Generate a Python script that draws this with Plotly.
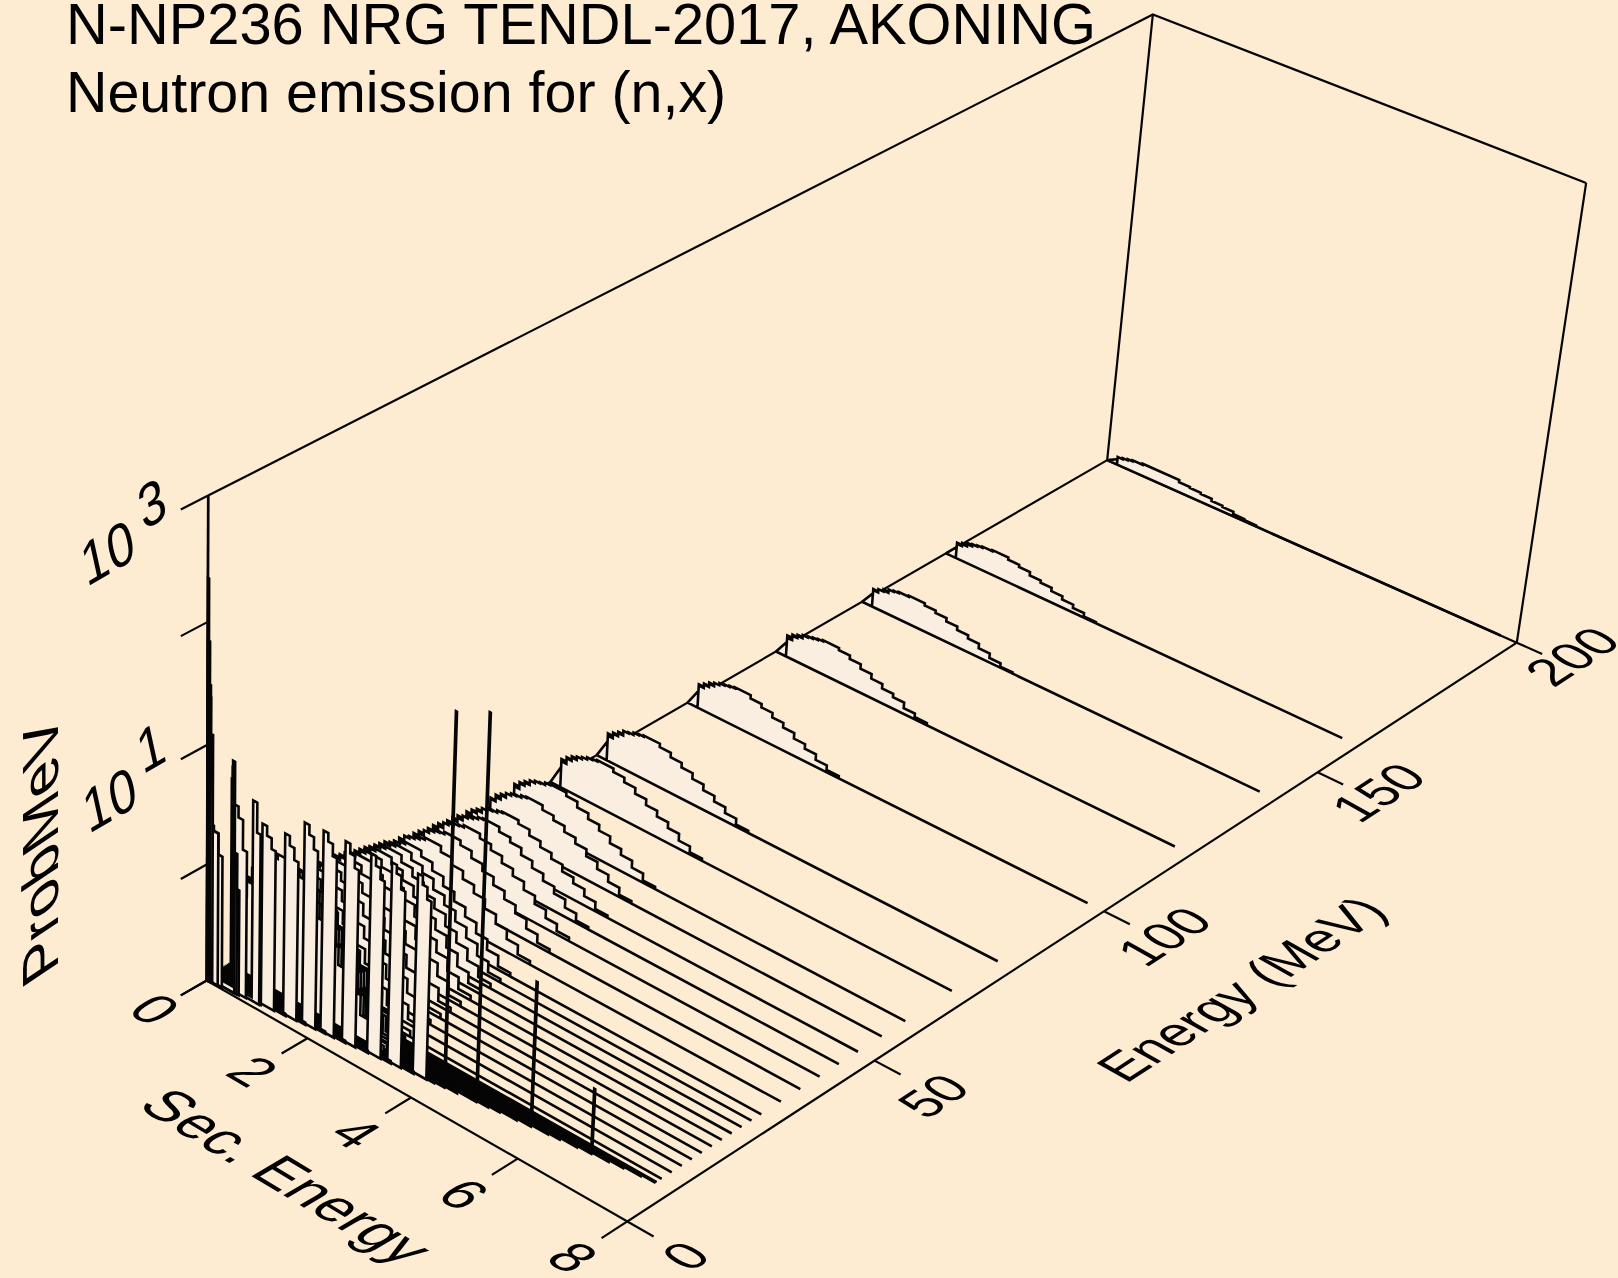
import json
import numpy as np
import plotly.graph_objects as go

BG = "#FEECD2"
FILL = "#F9EEDF"
INK = "#050505"

# Secondary-energy bin edges (MeV) shared by the spectra
SEC_BINS = [0, .2, .25, .3, .35, .4, .45, .5, .6, .7, .8, .9, 1.0, 1.22, 1.44, 1.66, 1.88, 2.1, 2.32, 2.54, 2.76, 3.0]
SEC_END = 7.7
END_RATIO = 0.877   # below 8.8 MeV a spectrum stops at this fraction of the incident energy
LOG_FLOOR = -1.0

# log10(prob/MeV) in each bin, for each incident energy (MeV)
E_200 = [-.95,-.93,-.93,-.92,-.92,-.91,-.91,-.90,-.90,-.89,-.89,-.885,-.885,-.89,-.91,-.92,-.93,-.95,-.96,-.98,-.99]
E_160 = [-.90,-.86,-.87,-.84,-.85,-.82,-.83,-.81,-.80,-.79,-.79,-.78,-.78,-.80,-.82,-.85,-.87,-.90,-.93,-.96,-.99]
E_140 = [-.88,-.84,-.85,-.82,-.82,-.80,-.81,-.78,-.77,-.76,-.76,-.75,-.75,-.77,-.79,-.82,-.85,-.88,-.92,-.96,-.99]
E_120 = [-.87,-.81,-.83,-.78,-.79,-.76,-.77,-.74,-.73,-.72,-.71,-.70,-.70,-.72,-.75,-.79,-.83,-.87,-.90,-.95,-.98]
E_100 = [-.85,-.79,-.80,-.76,-.77,-.73,-.74,-.71,-.69,-.68,-.67,-.66,-.66,-.69,-.72,-.76,-.80,-.85,-.89,-.94,-.98]
E_80 = [-.83,-.76,-.78,-.73,-.74,-.70,-.71,-.67,-.66,-.64,-.63,-.62,-.62,-.65,-.69,-.73,-.78,-.83,-.88,-.93,-.98]
E_70 = [-.82,-.75,-.77,-.71,-.72,-.68,-.69,-.66,-.64,-.62,-.61,-.60,-.60,-.63,-.67,-.72,-.77,-.82,-.87,-.93,-.98]
E_60 = [-.81,-.73,-.75,-.69,-.70,-.66,-.67,-.63,-.61,-.60,-.58,-.57,-.57,-.60,-.65,-.70,-.75,-.81,-.86,-.92,-.98]
E_55 = [-.80,-.73,-.74,-.68,-.70,-.65,-.66,-.62,-.60,-.59,-.57,-.56,-.56,-.60,-.64,-.69,-.74,-.80,-.86,-.92,-.98]
E_50 = [-.81,-.73,-.75,-.69,-.70,-.66,-.67,-.63,-.61,-.60,-.58,-.57,-.57,-.60,-.65,-.70,-.75,-.81,-.86,-.92,-.98]
E_46 = [-.79,-.71,-.73,-.66,-.68,-.62,-.64,-.60,-.58,-.56,-.54,-.53,-.53,-.57,-.61,-.67,-.73,-.79,-.85,-.92,-.98]
E_42 = [-.77,-.68,-.70,-.63,-.65,-.59,-.61,-.56,-.54,-.52,-.51,-.49,-.49,-.53,-.58,-.64,-.70,-.77,-.84,-.91,-.97]
E_38 = [-.75,-.66,-.68,-.60,-.62,-.56,-.58,-.53,-.50,-.48,-.47,-.45,-.45,-.49,-.55,-.61,-.68,-.75,-.82,-.90,-.97]
E_34 = [-.73,-.63,-.65,-.57,-.59,-.52,-.54,-.48,-.46,-.44,-.42,-.40,-.40,-.45,-.51,-.58,-.65,-.73,-.81,-.89,-.97]
E_30 = [-.70,-.59,-.62,-.52,-.54,-.47,-.49,-.43,-.41,-.38,-.36,-.34,-.34,-.39,-.46,-.54,-.62,-.70,-.79,-.88,-.97]
E_28 = [-.69,-.57,-.60,-.50,-.52,-.45,-.47,-.41,-.38,-.35,-.33,-.31,-.31,-.37,-.43,-.52,-.60,-.69,-.78,-.88,-.97]
E_26 = [-.68,-.55,-.58,-.48,-.50,-.42,-.45,-.38,-.35,-.32,-.30,-.28,-.28,-.34,-.41,-.50,-.58,-.68,-.77,-.87,-.96]
E_24 = [-.66,-.54,-.57,-.46,-.48,-.40,-.42,-.36,-.33,-.30,-.27,-.25,-.25,-.31,-.39,-.48,-.57,-.66,-.76,-.87,-.96]
E_22 = [-.65,-.52,-.55,-.44,-.46,-.38,-.40,-.33,-.30,-.27,-.24,-.22,-.22,-.28,-.36,-.45,-.55,-.65,-.75,-.86,-.96]
E_20 = [-.64,-.50,-.53,-.42,-.44,-.35,-.38,-.30,-.27,-.24,-.21,-.19,-.19,-.25,-.34,-.43,-.53,-.64,-.74,-.85,-.96]
E_18 = [-.63,-.49,-.52,-.40,-.43,-.34,-.36,-.29,-.25,-.22,-.19,-.17,-.17,-.24,-.32,-.42,-.52,-.63,-.73,-.85,-.96]
E_16 = [-.62,-.47,-.51,-.39,-.41,-.32,-.35,-.27,-.24,-.20,-.18,-.15,-.15,-.22,-.30,-.41,-.51,-.62,-.73,-.85,-.96]
E_14 = [-.61,-.46,-.50,-.37,-.40,-.30,-.33,-.25,-.22,-.18,-.16,-.13,-.13,-.20,-.29,-.39,-.50,-.61,-.72,-.84,-.96]
E_12 = [-.60,-.45,-.48,-.36,-.39,-.29,-.31,-.23,-.20,-.16,-.14,-.11,-.11,-.18,-.27,-.38,-.48,-.60,-.72,-.84,-.96]
E_10 = [-.59,-.44,-.47,-.34,-.37,-.27,-.30,-.22,-.18,-.14,-.12,-.09,-.09,-.16,-.25,-.36,-.47,-.59,-.71,-.84,-.95]
E_9 = [-.58,-.42,-.46,-.33,-.36,-.26,-.28,-.20,-.16,-.13,-.10,-.07,-.07,-.14,-.24,-.35,-.46,-.58,-.70,-.83,-.95]
E_8_8 = [-.57,-.41,-.45,-.32,-.34,-.24,-.27,-.18,-.15,-.11,-.08,-.05,-.05,-.13,-.22,-.34,-.45,-.57,-.70,-.83,-.95]
E_8_2 = [-.56,-.39,-.43,-.29,-.32,-.22,-.25,-.16,-.12,-.08,-.05,-.02,-.02,-.10,-.20,-.31,-.43,-.56,-.69,-.82,-.95]
E_7_6 = [-.55,-.38,-.42,-.28,-.31,-.20,-.23,-.14,-.10,-.06,-.03,0,0,-.08,-.18,-.30,-.42,-.55,-.68,-.82,-.95]
E_7_0 = [-.54,-.36,-.40,-.26,-.29,-.18,-.21,-.11,-.07,-.03,0,.03,.03,-.05,-.16,-.28,-.40,-.54,-.67,-.81,-.95]
E_6_45 = [-.52,-.34,-.39,-.24,-.27,-.15,-.18,-.09,-.05,0,.03,.06,.06,-.02,-.13,-.26,-.39,-.52,-.66,-.81,-.95]
E_5_85 = [-.50,-.32,-.36,-.21,-.24,-.12,-.15,-.05,-.01,.03,.07,.10,.10,.01,-.10,-.23,-.36,-.50,-.65,-.80,-.95]
E_5_4 = [-.49,-.30,-.34,-.19,-.22,-.10,-.13,-.03,.02,.06,.10,.13,.13,.04,-.07,-.21,-.34,-.49,-.64,-.80,-.94]
E_4_78 = [-.47,-.27,-.32,-.15,-.19,-.06,-.09,.01,.06,.11,.14,.18,.18,.09,-.03,-.17,-.32,-.47,-.62,-.79,-.94]

HUMP_E = [200, 160, 140, 120, 100, 80, 70, 60, 55, 50, 46, 42, 38, 34, 30, 28, 26, 24, 22, 20, 18, 16, 14, 12, 10, 9,
          8.8, 8.2, 7.6, 7.0, 6.45, 5.85, 5.4, 4.78]
HUMP_LOGP = [E_200, E_160, E_140, E_120, E_100, E_80, E_70, E_60, E_55, E_50, E_46, E_42, E_38, E_34, E_30, E_28, E_26,
             E_24, E_22, E_20, E_18, E_16, E_14, E_12, E_10, E_9, E_8_8, E_8_2, E_7_6, E_7_0, E_6_45, E_5_85, E_5_4, E_4_78]

# Isolated narrow lines in the spectra: incident energy -> peak log10(prob/MeV)
LINE_E = [7.6, 6.45, 5.4, 4.78]
LINE_LOGP = [-.45, .22, 2.2, 2.1]

# Low-energy spectra that end in a narrow block at the top of their range
BLOCK_E = [4.40, 3.90, 3.50, 3.00, 2.57, 2.20, 1.82, 1.37, .80, .31]
BLOCK_TOP = [.67, .67, .67, .68, .69, .69, .53, .53, .59, .34]
BLOCK_MID = [.60, .60, .59, .60, .62, .61, .45, .45, .50, .30]
BLOCK_END = [.50, .49, .50, .50, .52, .51, .35, .36, .25, .12]

# Spectra that stay close to the floor all the way
FLAT_E = [8.5, 7.9, 7.3, 6.75, 6.15, 5.6, 5.0, 4.55, 4.15, 3.7, 3.25, 2.8, 2.4, 2.0, 1.6, 1.1, .6]
FLAT_LOGP = [-.98, -.98, -.98, -.98, -.98, -.98, -.98, -.98, -.98, -.98, -.98, -.98, -.98, -.98, -.98, -.98, -.98]

# Very low incident energies: bin edges and log10(prob/MeV)
LOW_E = [.95, .58, .54, .50, .20, .10, .06, .03, .005]
LOW_EDGES = [[0, .80, .88, .95], [0, .42, .46, .58], [0, .44, .47, .54], [0, .45, .49, .50], [0, .05, .20],
             [0, .06, .10], [0, .04, .06], [0, .02, .03], [0, .005]]
LOW_LOGP = [[-.97, .70, .45], [-.95, .80, -.1], [-.95, .90, .2], [-.95, .96, .6], [.57, .30],
            [1.4, 1.1], [1.85, 1.5], [2.35, 2.0], [3.0]]

E_TICKS = [0, 50, 100, 150, 200]
S_TICKS = [0, 2, 4, 6, 8]
LOG_TICKS = [-1, 0, 1, 2, 3]

# Axis box: data ranges and where its landmarks sit in the frame (E, S, log10 P) -> (px, py)
E_MAX, S_MAX, LOG_MIN, LOG_MAX = 200.0, 8.0, -1.0, 3.0
ANCHORS = [
    (0, 0, -1, 207, 980), (0, 0, 0, 207.3, 865), (0, 0, 1, 207.6, 745), (0, 0, 2, 207.8, 622), (0, 0, 3, 208, 495),
    (0, 8, -1, 628, 1221), (200, 0, -1, 1107, 460), (200, 0, 3, 1153, 14.5), (200, 8, -1, 1517, 643), (200, 8, 3, 1586, 183),
    (50, 8, -1, 875, 1061), (100, 8, -1, 1103, 911), (150, 8, -1, 1318, 772), (0, 2, -1, 307, 1038), (0, 6, -1, 517, 1159),
]


def _norm(e, s, l):
    return np.array([e / E_MAX, s / S_MAX, (l - LOG_MIN) / (LOG_MAX - LOG_MIN), 1.0])


_rows = []
for e, s, l, px, py in ANCHORS:
    X = _norm(e, s, l)
    u, v = px / 1000.0, py / 1000.0
    _rows.append(np.r_[X, np.zeros(4), -u * X])
    _rows.append(np.r_[np.zeros(4), X, -v * X])
_M = np.linalg.svd(np.array(_rows))[2][-1].reshape(3, 4)


def project(e, s, logp):
    e, s, logp = np.asarray(e, float), np.asarray(s, float), np.clip(np.asarray(logp, float), LOG_MIN, None)
    X = np.stack([e / E_MAX, s / S_MAX, (logp - LOG_MIN) / (LOG_MAX - LOG_MIN), np.ones_like(e)])
    h = _M @ X
    return 1000 * h[0] / h[2], 1000 * h[1] / h[2]


def add_curve(fig, e, edges, vals, s_end, line=None, diag=False):
    s, z = [0.0], [LOG_FLOOR]
    start = 0
    if diag:
        # first bin climbs straight from the floor, then returns to it
        s += [edges[1], edges[1]]
        z += [vals[0], LOG_FLOOR]
        start = 1
    elif edges[0] > 0:
        s.append(edges[0]); z.append(LOG_FLOOR)
    for i in range(start, len(vals)):
        s += [edges[i], edges[i + 1]]
        z += [vals[i], vals[i]]
    s.append(edges[-1]); z.append(LOG_FLOOR)
    if line is not None:
        pos, top = line
        s += [pos, pos, pos + .02, pos + .02]
        z += [LOG_FLOOR, top, top, LOG_FLOOR]
    s.append(s_end); z.append(LOG_FLOOR)
    s.append(0.0); z.append(LOG_FLOOR)
    x, y = project(np.full(len(s), e), s, z)
    fig.add_trace(go.Scatter(x=x, y=y, mode="lines", fill="toself", fillcolor=FILL,
                             line=dict(color=INK, width=2.6, shape="linear"),
                             hoverinfo="skip", showlegend=False))


def add_seg(fig, e, s, z, width=2.2):
    x, y = project(np.array(e, float), np.array(s, float), np.array(z, float))
    fig.add_trace(go.Scatter(x=x, y=y, mode="lines", line=dict(color=INK, width=width),
                             hoverinfo="skip", showlegend=False))


fig = go.Figure()

# frame
add_seg(fig, [0, 200, 200], [0, 0, 8], [3, 3, 3])
add_seg(fig, [200, 200], [8, 8], [3, -1])
add_seg(fig, [200, 200], [0, 0], [3, -1])
add_seg(fig, [0, 200, 200, 0, 0], [0, 0, 8, 8, 0], [-1, -1, -1, -1, -1])
add_seg(fig, [0, 0], [0, 0], [-1, 3])
# ticks
for t in E_TICKS:
    add_seg(fig, [t, t], [8, 8.47], [-1, -1])
for t in S_TICKS:
    add_seg(fig, [0, -5], [t, t], [-1, -1])
for t in LOG_TICKS:
    add_seg(fig, [0, -5], [0, 0], [t, t])

# spectra, far ones first
line_lookup = dict(zip(LINE_E, LINE_LOGP))
jobs = []
for e, vals in zip(HUMP_E, HUMP_LOGP):
    end = SEC_END if e >= 8.8 else END_RATIO * e
    ln = (end - 0.03, line_lookup[e]) if e in line_lookup else None
    jobs.append((e, SEC_BINS, vals, end, ln, True))
for e, a, b, c in zip(BLOCK_E, BLOCK_TOP, BLOCK_MID, BLOCK_END):
    end = END_RATIO * e
    jobs.append((e, [0, max(end - .26, .01), max(end - .17, .02), max(end - .08, .03), end], [-.98, a, b, c], end, None, False))
for e, v in zip(FLAT_E, FLAT_LOGP):
    end = END_RATIO * e
    jobs.append((e, [0, end], [v], end, None, False))
for e, ed, vals in zip(LOW_E, LOW_EDGES, LOW_LOGP):
    jobs.append((e, ed, vals, ed[-1], None, False))
for e, ed, vals, end, ln, dg in sorted(jobs, key=lambda j: -j[0]):
    add_curve(fig, e, ed, vals, end, ln, dg)

FONT = "Liberation Sans"
ann, shear = [], []


def label(x, y, text, size=50, angle=0, anchor="center", k=0.0, sy=1.0):
    ann.append(dict(x=x, y=y, xref="x", yref="y", text=text, showarrow=False, textangle=angle, xanchor=anchor,
                    yanchor="middle", font=dict(family=FONT, size=size, color="#000")))
    shear.append([k, sy])


label(64, 24, "N-NP236 NRG TENDL-2017, AKONING", 57.8, anchor="left")
label(64, 92, "Neutron emission for (n,x)", 57.4, anchor="left")
label(107, 552, "10", 53, -30, k=-.34, sy=1.07)
label(151, 503, "3", 53, -30, k=-.34, sy=1.07)
label(109, 799, "10", 53, -30, k=-.34, sy=1.07)
label(150, 747, "1", 53, -30, k=-.34, sy=1.07)
label(40, 851, "ProbMeV", 62, -90, k=.55, sy=.82)
label(155, 1009, "0", 54, 30, k=-.5, sy=.92)
for t, (px, py) in zip(S_TICKS[1:], [(253, 1071), (356, 1133), (464, 1194), (573, 1257)]):
    label(px, py, str(t), 54, 30, k=-.5, sy=.92)
label(287, 1176, "Sec. Energy", 57, 31, k=-.5, sy=.92)
for t, (px, py) in zip(E_TICKS, [(686, 1256), (934, 1096), (1164, 937), (1378, 793), (1572, 657)]):
    label(px, py, str(t), 50, -33, k=.5, sy=.95)
label(1241, 989, "Energy (MeV)", 51, -33, k=.5, sy=.95)

fig.update_layout(
    width=1618, height=1278, margin=dict(l=0, r=0, t=0, b=0), paper_bgcolor=BG, plot_bgcolor=BG,
    xaxis=dict(range=[0, 1618], visible=False, fixedrange=True),
    yaxis=dict(range=[1278, 0], visible=False, fixedrange=True),
    annotations=ann, showlegend=False,
)

POST = """
document.body.style.margin='0';document.body.style.background='%s';document.body.style.overflow='hidden';
(function(){var S=%s;var done=false;function go(){if(done)return;var a=document.querySelectorAll('g.annotation');
if(a.length<S.length){setTimeout(go,30);return;}done=true;
a.forEach(function(g){var i=+g.getAttribute('data-index');var p=S[i];if(!p||(p[0]===0&&p[1]===1))return;
var t=g.querySelector('text');var b=t.getBBox();var cx=b.x+b.width/2,cy=b.y+b.height/2;
t.setAttribute('transform','translate('+cx+','+cy+') matrix(1,0,'+p[0]+','+p[1]+',0,0) translate('+(-cx)+','+(-cy)+')');});}
go();})();
""" % (BG, json.dumps(shear))
fig.write_html("out.html", config={"displayModeBar": False}, post_script=POST)
